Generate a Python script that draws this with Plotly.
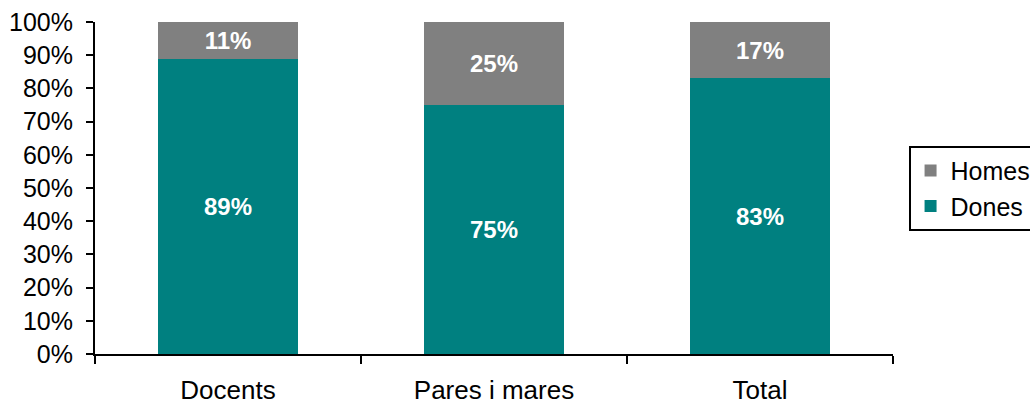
import plotly.graph_objects as go

categories = ["Docents", "Pares i mares", "Total"]
dones = [89, 75, 83]
homes = [11, 25, 17]
y_ticks = [0, 10, 20, 30, 40, 50, 60, 70, 80, 90, 100]
y_tick_labels = [f"{v}%" for v in y_ticks]

FONT = "Liberation Sans, Arial, sans-serif"

fig = go.Figure()
fig.add_trace(go.Bar(
    x=categories, y=dones, name="Dones",
    marker=dict(color="#008080", line=dict(width=0)),
    text=[f"{v}%" for v in dones], texttemplate="%{text}",
    textposition="inside", insidetextanchor="middle",
    textfont=dict(color="white", size=24, family=FONT, weight="bold"),
))
fig.add_trace(go.Bar(
    x=categories, y=homes, name="Homes",
    marker=dict(color="#808080", line=dict(width=0)),
    text=[f"{v}%" for v in homes], texttemplate="%{text}",
    textposition="inside", insidetextanchor="middle",
    textfont=dict(color="white", size=24, family=FONT, weight="bold"),
))

fig.update_layout(
    width=1030, height=407,
    margin=dict(l=95, r=137, t=22, b=53, autoexpand=False),
    barmode="stack", bargap=0.474,
    plot_bgcolor="white", paper_bgcolor="white",
    font=dict(family=FONT, size=25, color="black"),
    legend=dict(
        x=1.0195, y=0.627, xanchor="left", yanchor="top",
        traceorder="reversed",
        bordercolor="black", borderwidth=2,
        font=dict(size=25, family=FONT),
        itemsizing="constant",
        tracegroupgap=0,
        itemwidth=30,
    ),
    xaxis=dict(
        showline=True, linecolor="black", linewidth=2,
        ticks="outside", tickson="boundaries", ticklen=8, tickwidth=2, tickcolor="black",
        showgrid=False, range=[-0.5, 2.5], ticklabelstandoff=12,
        tickfont=dict(size=26), automargin=False,
    ),
    yaxis=dict(
        range=[0, 100], tickvals=y_ticks, ticktext=y_tick_labels,
        showline=True, linecolor="black", linewidth=2,
        ticks="outside", ticklen=7, tickwidth=2, tickcolor="black",
        showgrid=False, zeroline=False, ticklabelstandoff=8,
        tickfont=dict(size=25), automargin=False,
    ),
)
for tr in fig.data:
    tr.update(constraintext="none")

fig.write_html(
    "out.html",
    config={"displayModeBar": False},
    post_script="document.body.style.margin='0';document.body.style.overflow='hidden';",
)
